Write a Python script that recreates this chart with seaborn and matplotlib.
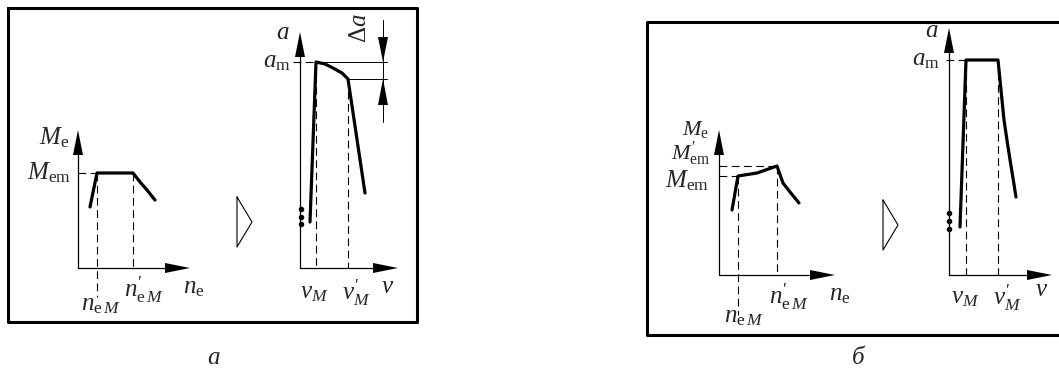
import seaborn as sns
import matplotlib.pyplot as plt

sns.set_style("white")
plt.rcParams['font.family'] = ['Liberation Serif', 'DejaVu Serif']
plt.rcParams['mathtext.fontset'] = 'custom'
plt.rcParams['mathtext.rm'] = 'Liberation Serif'
plt.rcParams['mathtext.it'] = 'Liberation Serif:italic'

W, H = 1059, 371
FS = 18

# --- panel a: engine torque curve (units = px from the axis corner)
a_ne = [12, 19, 55, 62, 69, 77]
a_Me = [61, 95, 95, 86, 78, 68]
a_neM, a_neM2, a_Mem = 19, 55, 95
# --- panel a: acceleration curve
a_v = [10, 16, 25, 33, 42, 48, 65]
a_acc = [46, 206, 204, 200, 195, 189, 75]
a_vM, a_vM2, a_am, a_am2 = 16, 48, 206, 189

# --- panel b: engine torque curve
b_ne = [13, 19, 38, 58, 64, 71, 80]
b_Me = [65, 99, 102, 109, 92, 83, 72]
b_neM, b_neM2, b_Mem, b_Mem2 = 19, 58, 99, 109
# --- panel b: acceleration curve
b_v = [11, 17, 49, 52, 55, 59, 67]
b_acc = [48, 215, 215, 185, 155, 128, 78]
b_vM, b_vM2, b_am = 17, 49, 215

fig = plt.figure(figsize=(W / 100, H / 100), dpi=100)
bg = fig.add_axes([0, 0, 1, 1])
bg.set_xlim(0, W)
bg.set_ylim(H, 0)
bg.axis('off')

# frames
bg.plot([8, 417, 417, 8, 8], [8, 8, 322, 322, 8], color='black', lw=2.2)
bg.plot([1059, 647, 647, 1059], [22, 22, 335, 335], color='black', lw=2.2)
# transition triangles
for x0, y0 in [(237, 197), (883, 200)]:
    bg.plot([x0, x0 + 15, x0, x0], [y0, y0 + 25, y0 + 50, y0], color='black', lw=0.8)
bg.text(213, 358, 'а', fontsize=FS, style='italic', ha='center', va='center')
bg.text(858, 358, 'б', fontsize=FS, style='italic', ha='center', va='center')


def graph(ox, oy, w, h):
    ax = fig.add_axes([ox / W, (H - oy) / H, w / W, h / H])
    ax.set_xlim(0, w)
    ax.set_ylim(0, h)
    ax.axis('off')
    ax.patch.set_alpha(0)
    ax.plot([0, w - 24], [0, 0], color='black', lw=0.9, clip_on=False)
    ax.plot([0, 0], [0, h - 24], color='black', lw=0.9, clip_on=False)
    ax.fill([w - 25, w, w - 25], [-5, 0, 5], color='black', clip_on=False, lw=0)
    ax.fill([-5, 0, 5], [h - 25, h, h - 25], color='black', clip_on=False, lw=0)
    return ax


def dash(ax, xs, ys):
    ax.plot(xs, ys, color='black', lw=0.8, dashes=[7, 4], clip_on=False)


def curve(ax, xs, ys):
    sns.lineplot(x=xs, y=ys, ax=ax, color='black', lw=2.3, sort=False,
                 estimator=None, clip_on=False)


def dots(ax, x, ys):
    ax.scatter([x] * len(ys), ys, s=9, color='black', clip_on=False)


def lab(ax, x, y, s, ha='center', rot=0, fs=FS):
    ax.text(x, y, s, fontsize=fs, ha=ha, va='center', rotation=rot, clip_on=False)


# ---------- panel a, torque
ax = graph(78, 268, 112, 138)
curve(ax, a_ne, a_Me)
dash(ax, [0, a_neM], [a_Mem, a_Mem])
dash(ax, [a_neM, a_neM], [a_Mem, -29])
dash(ax, [a_neM2, a_neM2], [a_Mem, 0])
lab(ax, -9, 130, r'$M_\mathrm{e}$', ha='right')
lab(ax, -7, a_Mem, r'$M_\mathrm{em}$', ha='right')
lab(ax, 116, -20, r'$n_\mathrm{e}$')
lab(ax, 66, -22, r"$n^{\prime}_{\mathrm{e}\,M}$")
lab(ax, 23, -37, r'$n_{\mathrm{e}\,M}$')

# ---------- panel a, acceleration
ax = graph(300, 268, 98, 236)
curve(ax, a_v, a_acc)
dash(ax, [-7, a_vM], [a_am, a_am])
dash(ax, [a_vM, a_vM], [a_am, 0])
dash(ax, [a_vM2, a_vM2], [a_am2, 0])
dots(ax, 1, [59, 51, 44])
ax.plot([a_vM, 87], [a_am, a_am], color='black', lw=0.7, clip_on=False)
ax.plot([a_vM2, 87], [a_am2, a_am2], color='black', lw=0.7, clip_on=False)
ax.plot([83, 83], [146, 248], color='black', lw=0.7, clip_on=False)
ax.fill([78, 83, 88], [a_am + 25, a_am, a_am + 25], color='black', lw=0, clip_on=False)
ax.fill([78, 83, 88], [a_am2 - 26, a_am2, a_am2 - 26], color='black', lw=0, clip_on=False)
lab(ax, 60, 240, r'$\Delta a$', rot=90)
lab(ax, -17, 235, r'$a$')
lab(ax, -9, a_am, r'$a_\mathrm{m}$', ha='right')
lab(ax, 14, -25, r'$v_M$')
lab(ax, 56, -25, r"$v^{\prime}_M$")
lab(ax, 88, -19, r'$v$')

# ---------- panel b, torque
ax = graph(719, 275, 116, 145)
curve(ax, b_ne, b_Me)
dash(ax, [0, b_neM], [b_Mem, b_Mem])
dash(ax, [0, b_neM2], [b_Mem2, b_Mem2])
dash(ax, [b_neM, b_neM], [b_Mem, -40])
dash(ax, [b_neM2, b_neM2], [b_Mem2, 0])
lab(ax, -10, 146, r'$M_\mathrm{e}$', ha='right', fs=16)
lab(ax, -8, 121, r"$M^{\prime}_\mathrm{em}$", ha='right', fs=16)
lab(ax, -10, 94, r'$M_\mathrm{em}$', ha='right')
lab(ax, 70, -22, r"$n^{\prime}_{\mathrm{e}\,M}$")
lab(ax, 121, -20, r'$n_\mathrm{e}$')
lab(ax, 25, -42, r'$n_{\mathrm{e}\,M}$')

# ---------- panel b, acceleration
ax = graph(949, 275, 103, 247)
curve(ax, b_v, b_acc)
dash(ax, [-3, b_vM], [b_am, b_am])
dash(ax, [b_vM, b_vM], [b_am, 0])
dash(ax, [b_vM2, b_vM2], [b_am, 0])
dots(ax, 0, [62, 54, 46])
lab(ax, -17, 244, r'$a$')
lab(ax, -9, b_am, r'$a_\mathrm{m}$', ha='right')
lab(ax, 16, -23, r'$v_M$')
lab(ax, 58, -23, r"$v^{\prime}_M$")
lab(ax, 93, -15, r'$v$')

fig.savefig('out.png', dpi=100)
